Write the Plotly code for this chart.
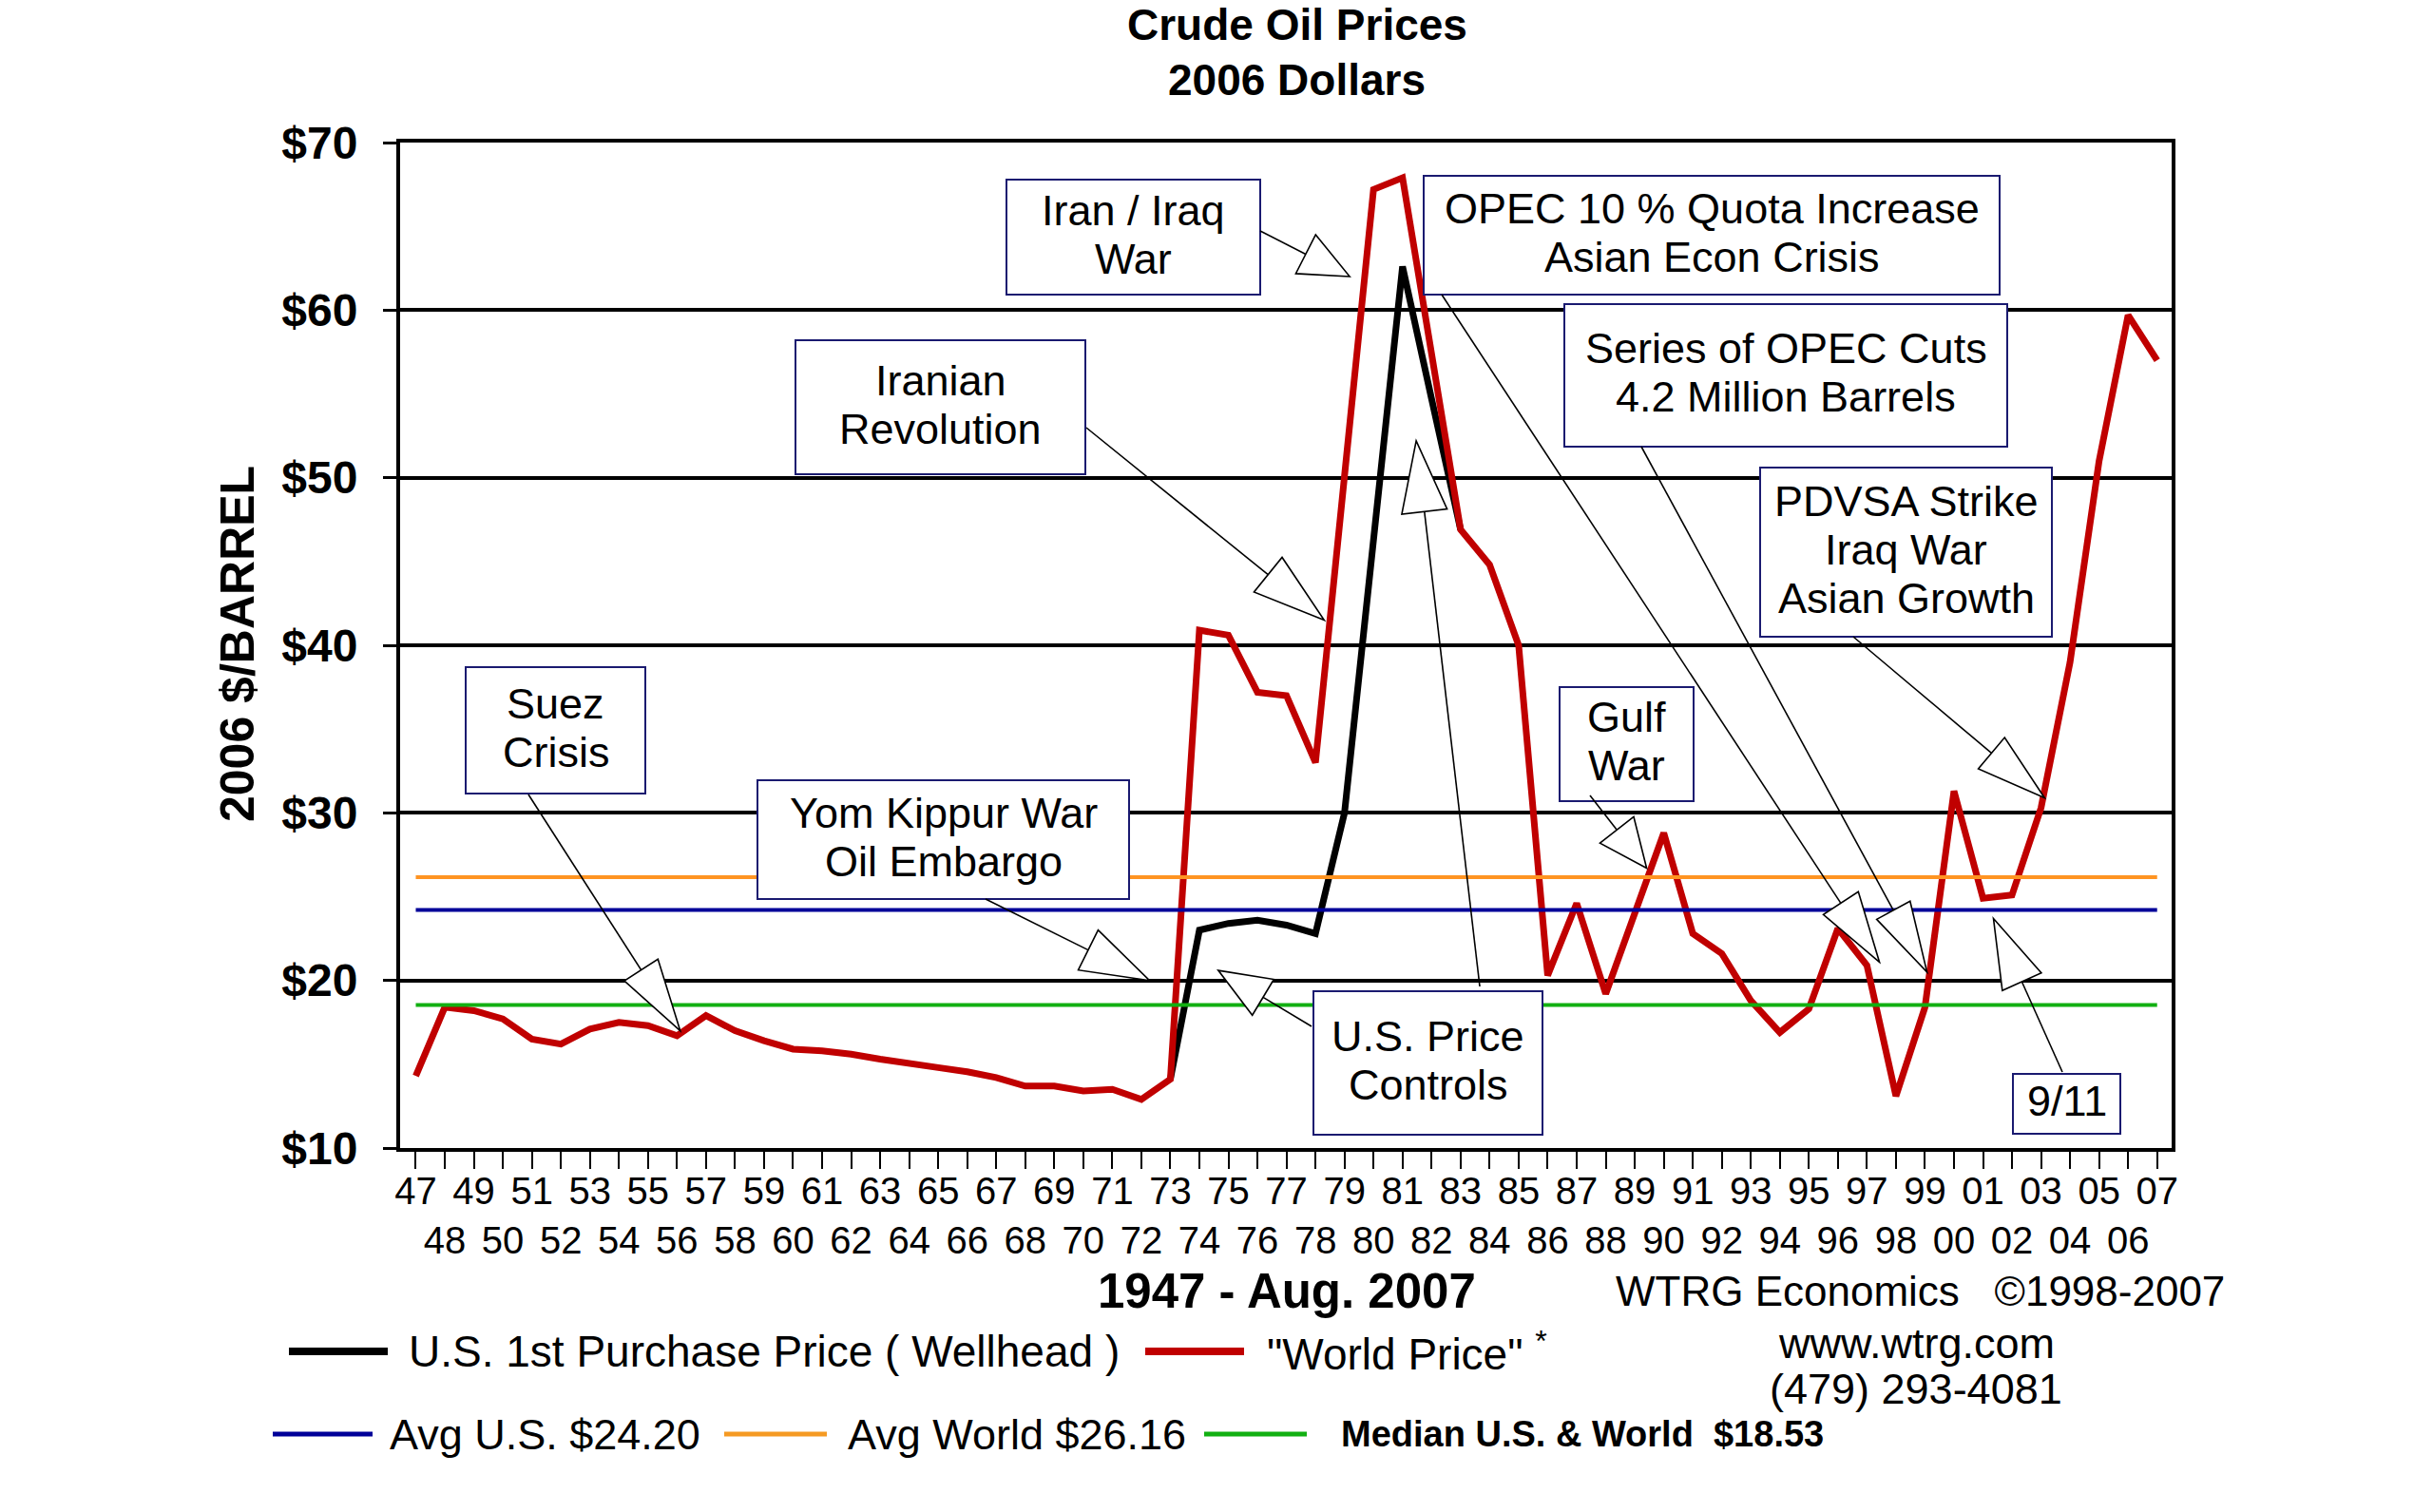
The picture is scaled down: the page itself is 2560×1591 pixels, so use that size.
import math
import plotly.graph_objects as go

# ---------------- data ----------------
years = list(range(1947, 2008))
world_price = [14.3, 18.4, 18.2, 17.7, 16.5, 16.2, 17.1, 17.5, 17.3, 16.7,
               17.9, 17.0, 16.4, 15.9, 15.8, 15.6, 15.3, 15.1, 14.8, 14.55,
               14.2, 13.7, 13.7, 13.4, 13.5, 12.9, 14.1, 40.9, 40.6, 37.2,
               37.0, 33.0, 50.5, 67.2, 67.9, 57.4, 46.9, 44.8, 40.0, 20.3,
               24.6, 19.2, 24.0, 28.8, 22.8, 21.6, 18.8, 16.9, 18.3, 23.1,
               20.9, 13.1, 18.4, 31.3, 24.9, 25.1, 30.3, 39.0, 51.0, 59.7, 57.0]
us_years = list(range(1973, 1984))
us_wellhead = [14.1, 23.0, 23.4, 23.6, 23.3, 22.8, 30.0, 46.0, 62.6, 54.7, 46.9]
avg_us = 24.20
avg_world = 26.16
median_us_world = 18.53
ytick_vals = [10, 20, 30, 40, 50, 60, 70]
ytick_text = ["$10", "$20", "$30", "$40", "$50", "$60", "$70"]
xtick_text = [(f"{y % 100:02d}" if y % 2 == 1 else f"<br>{y % 100:02d}") for y in years]

# ---------------- geometry ----------------
W, H = 2560, 1591
PL, PT, PR, PB = 421, 150, 2285, 1208
PW, PH = PR - PL, PB - PT
XR = [1946.46, 2007.5]
YR = [10, 70]
FONT = "Liberation Sans, Arial, sans-serif"


def d2p(x, y):
    return (PL + (x - XR[0]) / (XR[1] - XR[0]) * PW,
            PT + (YR[1] - y) / (YR[1] - YR[0]) * PH)


def p2d(px, py):
    return (XR[0] + (px - PL) / PW * (XR[1] - XR[0]),
            YR[1] - (py - PT) / PH * (YR[1] - YR[0]))


def p2paper(px, py):
    return ((px - PL) / PW, (PB - py) / PH)


fig = go.Figure()

fig.add_trace(go.Scatter(x=us_years, y=us_wellhead, mode="lines",
                         line=dict(color="black", width=7),
                         hoverinfo="skip", showlegend=False))
fig.add_trace(go.Scatter(x=years, y=world_price, mode="lines",
                         line=dict(color="#c00000", width=7),
                         hoverinfo="skip", showlegend=False))
for val, col in [(avg_us, "#000099"), (avg_world, "#ff9422"), (median_us_world, "#12b012")]:
    fig.add_trace(go.Scatter(x=[years[0], years[-1]], y=[val, val], mode="lines",
                             line=dict(color=col, width=4),
                             hoverinfo="skip", showlegend=False))

shapes = []
annotations = []

# ---------------- annotation boxes ----------------
boxes = [
    ((1059, 189, 1326, 310), ["Iran / Iraq", "War"]),
    ((1498, 185, 2104, 310), ["OPEC 10 % Quota Increase", "Asian Econ Crisis"]),
    ((1646, 320, 2112, 470), ["Series of OPEC Cuts", "4.2 Million Barrels"]),
    ((1852, 492, 2159, 670), ["PDVSA Strike", "Iraq War", "Asian Growth"]),
    ((837, 358, 1142, 499), ["Iranian", "Revolution"]),
    ((490, 702, 679, 835), ["Suez", "Crisis"]),
    ((797, 821, 1188, 946), ["Yom Kippur War", "Oil Embargo"]),
    ((1382, 1043, 1623, 1194), ["U.S. Price", "Controls"]),
    ((1641, 723, 1782, 843), ["Gulf", "War"]),
    ((2118, 1130, 2231, 1193), ["9/11"]),
]
for (x0, y0, x1, y1), lines in boxes:
    dx0, dy0 = p2d(x0, y0)
    dx1, dy1 = p2d(x1, y1)
    shapes.append(dict(type="rect", xref="x", yref="y", x0=dx0, y0=dy0, x1=dx1, y1=dy1,
                       fillcolor="white", line=dict(color="#1a1a70", width=2), layer="above"))
    cx = (x0 + x1) / 2
    cy = (y0 + y1) / 2 - 3
    n = len(lines)
    for i, t in enumerate(lines):
        ly = cy + (i - (n - 1) / 2) * 51
        ax, ay = p2d(cx, ly)
        annotations.append(dict(x=ax, y=ay, xref="x", yref="y", text=t, showarrow=False,
                                xanchor="center", yanchor="middle",
                                font=dict(family=FONT, size=45, color="black")))

# ---------------- arrows (tail pixel at box edge, tip at data point) ----------------
arrows = [
    (1326, 243, 1979.18, 62.0, 52, 46),
    (1517, 310, 1997.43, 21.1, 74, 44),
    (1727, 470, 1999.07, 20.5, 74, 40),
    (1950, 670, 2003.12, 30.9, 73, 43),
    (1143, 450, 1978.30, 41.5, 76, 47),
    (556, 836, 1956.11, 17.0, 76, 42),
    (1037, 946, 1972.28, 20.0, 72, 47),
    (1380, 1080, 1974.65, 20.6, 55, 44),
    (1557, 1038, 1981.47, 52.2, 75, 48),
    (1673, 837, 1989.41, 26.7, 51, 45),
    (2170, 1128, 2001.36, 23.7, 73, 45),
]
for tx, ty, ex, ey, hl, hw in arrows:
    px, py = d2p(ex, ey)
    vx, vy = px - tx, py - ty
    L = math.hypot(vx, vy)
    ux, uy = vx / L, vy / L
    bx, by = px - hl * ux, py - hl * uy
    nx, ny = -uy, ux
    a = p2d(tx, ty)
    b = p2d(bx, by)
    shapes.append(dict(type="line", xref="x", yref="y", x0=a[0], y0=a[1], x1=b[0], y1=b[1],
                       line=dict(color="black", width=1.6), layer="above"))
    v1 = p2d(bx + nx * hw / 2, by + ny * hw / 2)
    v2 = p2d(bx - nx * hw / 2, by - ny * hw / 2)
    path = f"M {ex},{ey} L {v1[0]},{v1[1]} L {v2[0]},{v2[1]} Z"
    shapes.append(dict(type="path", xref="x", yref="y", path=path, fillcolor="white",
                       line=dict(color="black", width=1.6), layer="above"))

# ---------------- titles & footer text ----------------


def ptext(text, px, py, size, xanchor="center", bold=False, angle=0):
    x, y = p2paper(px, py)
    annotations.append(dict(x=x, y=y, xref="paper", yref="paper", text=text, showarrow=False,
                            xanchor=xanchor, yanchor="middle", textangle=angle,
                            font=dict(family=FONT, size=size, color="black",
                                      weight="bold" if bold else "normal")))


ptext("Crude Oil Prices", 1365, 26, 46, bold=True)
ptext("2006 Dollars", 1364, 84, 46, bold=True)
ptext("2006 $/BARREL", 250, 678, 50, bold=True, angle=-90)
ptext("1947 - Aug. 2007", 1354, 1358, 51, bold=True)
ptext("WTRG Economics\u00a0\u00a0 \u00a91998-2007", 1698, 1358, 44, xanchor="left")
ptext("www.wtrg.com", 2016, 1413, 45)
ptext("(479) 293-4081", 2016, 1461, 45)

# legend (manual)
legend_items = [
    ("black", 8, 304, 408, 1422, "U.S. 1st Purchase Price ( Wellhead )", 428, 46, False),
    ("#c00000", 8, 1205, 1309, 1422, "\"World Price\" <sup>*</sup>", 1331, 46, False),
    ("#000099", 5, 287, 392, 1509, "Avg U.S. $24.20", 408, 45, False),
    ("#f59a23", 5, 762, 870, 1509, "Avg World $26.16", 890, 45, False),
    ("#12b012", 5, 1267, 1375, 1509, "Median U.S. & World\u00a0 $18.53", 1409, 38, True),
]
for col, lw, x0, x1, y, txt, tx, fs, bold in legend_items:
    a = p2paper(x0, y)
    b = p2paper(x1, y)
    shapes.append(dict(type="line", xref="paper", yref="paper", x0=a[0], y0=a[1], x1=b[0], y1=b[1],
                       line=dict(color=col, width=lw)))
    ptext(txt, tx, y, fs, xanchor="left", bold=bold)

fig.update_layout(
    width=W, height=H,
    margin=dict(l=PL, r=W - PR, t=PT, b=H - PB, pad=0),
    paper_bgcolor="white", plot_bgcolor="white",
    showlegend=False, hovermode=False,
    shapes=shapes, annotations=annotations,
    xaxis=dict(range=XR, tickmode="array", tickvals=years, ticktext=xtick_text,
               ticks="outside", ticklen=18, tickwidth=2, tickcolor="black",
               showline=True, linewidth=4, linecolor="black", mirror=True,
               showgrid=False, zeroline=False, ticklabelstandoff=-11,
               tickfont=dict(family=FONT, size=40, color="black"), tickangle=0),
    yaxis=dict(range=YR, tickmode="array", tickvals=ytick_vals, ticktext=ytick_text,
               ticks="outside", ticklen=14, tickwidth=3, tickcolor="black",
               showline=True, linewidth=4, linecolor="black", mirror=True,
               showgrid=True, gridcolor="black", gridwidth=4, zeroline=False,
               ticklabelstandoff=17,
               tickfont=dict(family=FONT, size=48, color="black", weight="bold")),
)

fig.write_html("out.html", config={"displayModeBar": False},
               post_script="document.body.style.margin='0';document.body.style.overflow='hidden';")
